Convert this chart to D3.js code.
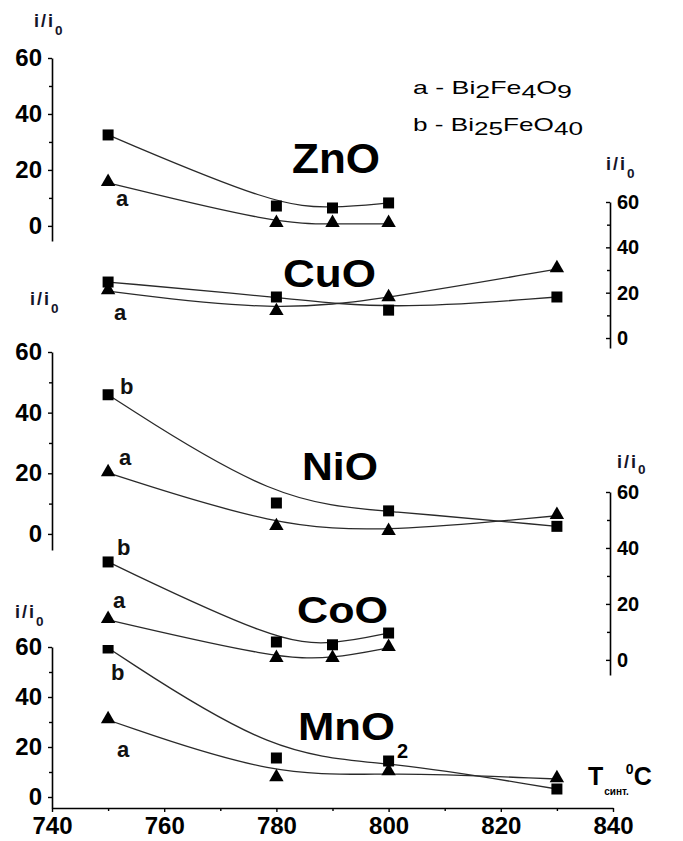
<!DOCTYPE html>
<html>
<head>
<meta charset="utf-8">
<script src="https://cdn.jsdelivr.net/npm/d3@7"></script>
<style>
  html, body { margin: 0; padding: 0; background: #fff; }
  svg { display: block; font-family: "Liberation Sans", Arial, sans-serif; }
</style>
</head>
<body>
<svg id="chart" width="683" height="841"></svg>
<script>
// ---------------- data ----------------
const xTicks = [740, 760, 780, 800, 820, 840];
const xMinor = [750, 770, 790, 810, 830];
const yTicks = [0, 20, 40, 60];
const yMinor = [10, 30, 50];

// a = Bi2Fe4O9 (triangles), b = Bi25FeO40 (squares)
const znoT = [750, 780, 790, 800];
const znoA = [15.4, 0.7, 0.7, 0.7];
const znoB = [32.5, 7.1, 6.4, 8.2];

const cuoT = [750, 780, 800, 830];
const cuoA = [20.7, 11.5, 17.6, 30.4];
const cuoB = [24.7, 18.1, 12.3, 18.1];

const nioT = [750, 780, 800, 830];
const nioA = [20.1, 2.3, 0.7, 6.0];
const nioB = [45.9, 10.2, 7.6, 2.5];

const cooT = [750, 780, 790, 800];
const cooA = [14.3, 0.4, 0.4, 4.3];
const cooB = [35.0, 6.4, 5.4, 9.6];

const mnoT = [750, 780, 800, 830];
const mnoA = [30.8, 7.6, 10.0, 7.2];
const mnoB = [59.6, 15.6, 14.4, 3.2];

// ---------------- layout ----------------
const FONT = '"Liberation Sans", Arial, sans-serif';
const svg = d3.select('#chart');
const x = d3.scaleLinear().domain([740, 840]).range([52, 613]);

const panels = [
  { name: 'ZnO', T: znoT, A: znoA, B: znoB, side: 'left',  dom: [-5.4, 60], rng: [241, 58],
    title: { x: 292, y: 173, size: 42, w: 88 }, axLabel: { x: 34, y: 27 },
    ann: [{ t: 'a', s: 'A', i: 0, dx: 8, dy: 23 }] },
  { name: 'CuO', T: cuoT, A: cuoA, B: cuoB, side: 'right', dom: [-4.4, 60], rng: [348, 202],
    title: { x: 283, y: 287, size: 38, w: 93 }, axLabel: { x: 606, y: 170 },
    ann: [{ t: 'a', s: 'A', i: 0, dx: 6, dy: 29 }] },
  { name: 'NiO', T: nioT, A: nioA, B: nioB, side: 'left',  dom: [-5.3, 60], rng: [550, 352],
    title: { x: 302, y: 480, size: 39, w: 76 }, axLabel: { x: 30, y: 305 },
    ann: [{ t: 'b', s: 'B', i: 0, dx: 12, dy: -1 }, { t: 'a', s: 'A', i: 0, dx: 11, dy: -8 }] },
  { name: 'CoO', T: cooT, A: cooA, B: cooB, side: 'right', dom: [-5.4, 60], rng: [675, 492],
    title: { x: 297, y: 623, size: 36, w: 91 }, axLabel: { x: 617, y: 468, subDy: 6 },
    ann: [{ t: 'b', s: 'B', i: 0, dx: 9, dy: -7 }, { t: 'a', s: 'A', i: 0, dx: 5, dy: -12 }] },
  { name: 'MnO', T: mnoT, A: mnoA, B: mnoB, side: 'left',  dom: [-4.4, 60], rng: [808, 647],
    title: { x: 298, y: 740, size: 38, w: 97, sub: '2' }, axLabel: { x: 15, y: 618 },
    ann: [{ t: 'b', s: 'B', i: 0, dx: 3, dy: 32 }, { t: 'a', s: 'A', i: 0, dx: 9, dy: 37 }],
    clip: true }
];

const defs = svg.append('defs');

function styleAxis(g, size) {
  g.selectAll('path.domain').attr('stroke', '#000').attr('stroke-width', 1.6);
  g.selectAll('.tick line').attr('stroke', '#000').attr('stroke-width', 1.4);
  g.selectAll('.tick text').attr('fill', '#000').attr('font-family', FONT)
    .attr('font-size', size).attr('font-weight', 'bold');
  g.attr('font-family', FONT);
}

function axisLabel(x0, y0, size, subDy) {
  const t = svg.append('text').attr('x', x0).attr('y', y0)
    .attr('font-family', FONT).attr('font-weight', 'bold').attr('font-size', size)
    .attr('fill', '#14142a');
  t.append('tspan').text('i/i').attr('letter-spacing', 2);
  t.append('tspan').text('0').attr('font-size', size * 0.75).attr('dy', subDy == null ? 8 : subDy);
}

panels.forEach((p, k) => {
  const y = d3.scaleLinear().domain(p.dom).range(p.rng);
  const ax = p.side === 'left' ? 52 : 610;

  // axis
  if (p.side === 'left') {
    const g = svg.append('g').attr('transform', `translate(${ax},0)`)
      .call(d3.axisLeft(y).tickValues(yTicks).tickSize(4).tickSizeOuter(0).tickPadding(6));
    styleAxis(g, 24);
    const gm = svg.append('g').attr('transform', `translate(${ax},0)`)
      .call(d3.axisLeft(y).tickValues(yMinor).tickSize(3).tickSizeOuter(0).tickFormat(''));
    gm.select('path.domain').remove();
    styleAxis(gm, 24);
  } else {
    const g = svg.append('g').attr('transform', `translate(${ax},0)`)
      .call(d3.axisRight(y).tickValues(yTicks).tickSize(-4).tickSizeOuter(0).tickPadding(7));
    styleAxis(g, 20);
    const gm = svg.append('g').attr('transform', `translate(${ax},0)`)
      .call(d3.axisRight(y).tickValues(yMinor).tickSize(-3).tickSizeOuter(0).tickFormat(''));
    gm.select('path.domain').remove();
    styleAxis(gm, 20);
  }
  axisLabel(p.axLabel.x, p.axLabel.y, 18, p.axLabel.subDy);

  // data group (optionally clipped at top of plot)
  const g = svg.append('g');
  if (p.clip) {
    const id = 'clip' + k;
    defs.append('clipPath').attr('id', id).append('rect')
      .attr('x', 0).attr('width', 683)
      .attr('y', y(60.8)).attr('height', 841 - y(60.8));
    g.attr('clip-path', `url(#${id})`);
  }

  const line = d3.line().curve(d3.curveBasis).x(d => x(d[0])).y(d => y(d[1]));
  const sA = p.T.map((t, i) => [t, p.A[i]]);
  const sB = p.T.map((t, i) => [t, p.B[i]]);
  [sB, sA].forEach(s => {
    g.append('path').datum(s).attr('d', line)
      .attr('fill', 'none').attr('stroke', '#2a2a2a').attr('stroke-width', 1.3);
  });
  g.selectAll('.sq').data(sB).join('path')
    .attr('transform', d => `translate(${x(d[0])},${y(d[1])})`)
    .attr('d', d3.symbol().type(d3.symbolSquare).size(121)).attr('fill', '#000');
  g.selectAll('.tr').data(sA).join('path')
    .attr('transform', d => `translate(${x(d[0])},${y(d[1]) - 1})`)
    .attr('d', d3.symbol().type(d3.symbolTriangle).size(90)).attr('fill', '#000');

  // series annotations
  p.ann.forEach(a => {
    const v = a.s === 'A' ? p.A[a.i] : p.B[a.i];
    svg.append('text').attr('x', x(p.T[a.i]) + a.dx).attr('y', y(v) + a.dy)
      .attr('font-family', FONT).attr('font-weight', 'bold').attr('font-size', 22)
      .attr('fill', '#111').text(a.t);
  });

  // panel title
  svg.append('text').attr('x', p.title.x).attr('y', p.title.y)
    .attr('font-family', FONT).attr('font-weight', 'bold').attr('font-size', p.title.size)
    .attr('textLength', p.title.w).attr('lengthAdjust', 'spacingAndGlyphs')
    .attr('fill', '#000').text(p.name);
  if (p.title.sub) {
    svg.append('text').attr('x', p.title.x + p.title.w + 2).attr('y', p.title.y + 18)
      .attr('font-family', FONT).attr('font-weight', 'bold').attr('font-size', 20)
      .attr('fill', '#000').text(p.title.sub);
  }
});

// bottom x axis
const xa = svg.append('g').attr('transform', 'translate(0,808)')
  .call(d3.axisBottom(x).tickValues(xTicks).tickSize(4).tickSizeOuter(0).tickPadding(5));
styleAxis(xa, 24);
const xm = svg.append('g').attr('transform', 'translate(0,808)')
  .call(d3.axisBottom(x).tickValues(xMinor).tickSize(3).tickSizeOuter(0).tickFormat(''));
xm.select('path.domain').remove();
styleAxis(xm, 24);

// x axis title: T синт. °C
const xt = svg.append('text').attr('x', 588).attr('y', 785)
  .attr('font-family', FONT).attr('font-weight', 'bold').attr('font-size', 25).attr('fill', '#000');
xt.append('tspan').text('T');
xt.append('tspan').text('синт.').attr('font-size', 10).attr('dy', 10).attr('dx', 1);
xt.append('tspan').text('0').attr('font-size', 14).attr('dy', -21).attr('dx', -3);
xt.append('tspan').text('C').attr('dy', 11).attr('dx', 0);

// legend
function legend(y0, parts, w) {
  const t = svg.append('text').attr('x', 413).attr('y', y0)
    .attr('font-family', FONT).attr('font-size', 19).attr('fill', '#000')
    .attr('textLength', w).attr('lengthAdjust', 'spacingAndGlyphs');
  let sub = false;
  parts.forEach(([s, isSub]) => {
    const ts = t.append('tspan').text(s);
    if (isSub && !sub) ts.attr('dy', 4);
    if (!isSub && sub) ts.attr('dy', -4);
    sub = isSub;
  });
}
legend(94, [['a - Bi', false], ['2', true], ['Fe', false], ['4', true], ['O', false], ['9', true]], 159);
legend(131, [['b - Bi', false], ['25', true], ['FeO', false], ['40', true]], 170);
</script>
</body>
</html>
